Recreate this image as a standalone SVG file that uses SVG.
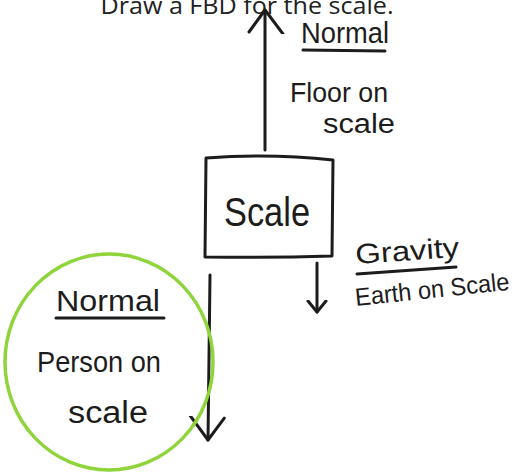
<svg xmlns="http://www.w3.org/2000/svg" width="529" height="475" viewBox="0 0 529 475">
<style>
.hand{font-family:"Liberation Sans","DejaVu Sans",sans-serif;fill:#1c1c1c}
.line{stroke:#1c1c1c;stroke-width:3;fill:none;stroke-linecap:round;stroke-linejoin:round}
.title{font-family:"Open Sans","Liberation Sans",sans-serif;font-size:23px;fill:#222}
</style>
<defs>
<marker id="vhead" viewBox="-12 -12 24 24" markerWidth="24" markerHeight="24" refX="0" refY="0" orient="auto" markerUnits="userSpaceOnUse">
<polyline points="-11,-9 0,0 -11,9" fill="none" stroke="#1c1c1c" stroke-width="3" stroke-linecap="round" stroke-linejoin="round"/>
</marker>
<marker id="vheadL" viewBox="-24 -20 28 40" markerWidth="28" markerHeight="40" refX="0" refY="0" orient="auto" markerUnits="userSpaceOnUse">
<polyline points="-22,-16 0,0 -24,18" fill="none" stroke="#1c1c1c" stroke-width="3" stroke-linecap="round" stroke-linejoin="round"/>
</marker>
</defs>
<rect width="529" height="475" fill="#ffffff"/>
<text class="title" x="247" y="14" text-anchor="middle" textLength="293" lengthAdjust="spacingAndGlyphs">Draw a FBD for the scale.</text>
<g id="connectors">
<line class="line" x1="265" y1="150" x2="265" y2="10" marker-end="url(#vheadL)"/>
<line class="line" x1="317" y1="263" x2="317" y2="312" marker-end="url(#vhead)"/>
<line class="line" x1="210" y1="275" x2="208" y2="440" marker-end="url(#vheadL)"/>
</g>
<g id="scale">
<path class="line" d="M206,158 Q270,153 333,160 L332,256 Q270,258 205,257 Z"/>
<text class="hand" x="267" y="226" font-size="40" text-anchor="middle" textLength="86" lengthAdjust="spacingAndGlyphs">Scale</text>
</g>
<g id="normal-floor">
<text class="hand" x="301" y="43" font-size="29" textLength="88" lengthAdjust="spacingAndGlyphs">Normal</text>
<line class="line" x1="303" y1="50" x2="385" y2="51"/>
<text class="hand" x="290" y="102" font-size="27" textLength="98" lengthAdjust="spacingAndGlyphs">Floor on</text>
<text class="hand" x="323" y="133" font-size="27" textLength="72" lengthAdjust="spacingAndGlyphs">scale</text>
</g>
<g id="gravity">
<text class="hand" x="356" y="264" font-size="28" textLength="104" lengthAdjust="spacingAndGlyphs" transform="rotate(-4 356 264)">Gravity</text>
<line class="line" x1="357" y1="274" x2="456" y2="267"/>
<text class="hand" x="356" y="306" font-size="25" textLength="155" lengthAdjust="spacingAndGlyphs" transform="rotate(-6 356 306)">Earth on Scale</text>
</g>
<g id="normal-person">
<ellipse cx="109" cy="362" rx="104" ry="108" fill="none" stroke="#8fd43a" stroke-width="3.5"/>
<text class="hand" x="56" y="311" font-size="30" textLength="104" lengthAdjust="spacingAndGlyphs">Normal</text>
<line class="line" x1="56" y1="318" x2="164" y2="318"/>
<text class="hand" x="37" y="372" font-size="29" textLength="124" lengthAdjust="spacingAndGlyphs">Person on</text>
<text class="hand" x="68" y="423" font-size="31" textLength="80" lengthAdjust="spacingAndGlyphs">scale</text>
</g>
</svg>
